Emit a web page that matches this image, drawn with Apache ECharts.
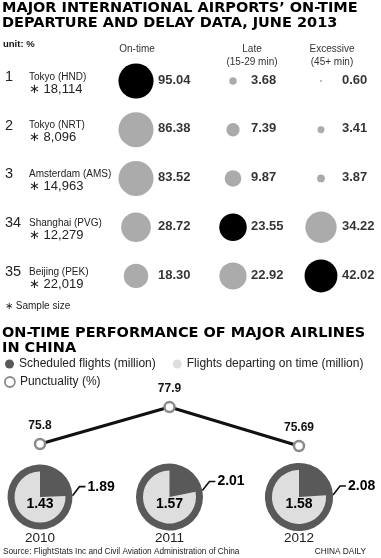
<!DOCTYPE html>
<html><head><meta charset="utf-8">
<script src="https://cdn.jsdelivr.net/npm/echarts@6/dist/echarts.min.js"></script>
<style>html,body{margin:0;padding:0;background:#fff}#c{width:381px;height:558px}</style>
</head><body><div id="c"></div>
<script>
// ---- data ----
const ranks = ['1', '2', '3', '34', '35'];
const airports = ['Tokyo (HND)', 'Tokyo (NRT)', 'Amsterdam (AMS)', 'Shanghai (PVG)', 'Beijing (PEK)'];
const sampleSizes = ['18,114', '8,096', '14,963', '12,279', '22,019'];
const columns = ['On-time', 'Late', 'Excessive'];
const columnSubs = ['', '(15-29 min)', '(45+ min)'];
const onTime = [95.04, 86.38, 83.52, 28.72, 18.30];
const late = [3.68, 7.39, 9.87, 23.55, 22.92];
const excessive = [0.60, 3.41, 3.87, 34.22, 42.02];
const years = ['2010', '2011', '2012'];
const scheduled = [1.89, 2.01, 2.08];
const departedOnTime = [1.43, 1.57, 1.58];
const punctuality = [75.8, 77.9, 75.69];

const LEG_SCHED = 'Scheduled flights (million)';
const LEG_ONTIME = 'Flights departing on time (million)';
const LEG_PUNCT = 'Punctuality (%)';

// ---- styles / layout ----
const FONT = '"Liberation Sans", Arial, sans-serif';
const HEAVY = '"DejaVu Sans", sans-serif';
const DARK = '#595959', LIGHT = '#dedede', GRAY = '#ababab';
const colX = [136, 233, 321];
const labelDist = [22, 18, 21];
const headerX = [137, 252, 332];
const rowTop = 56.6, rowH = 243.75;
const colValues = [onTime, late, excessive];
const radius = v => Math.max(1, 17.6 * (1 - Math.exp(-v / 15.5)));

const chart = echarts.init(document.getElementById('c'), null, {renderer: 'canvas'});

const grids = [], xAxes = [], yAxes = [], series = [];
colValues.forEach((vals, k) => {
  grids.push({left: colX[k] - 20, width: 40, top: rowTop, height: rowH});
  xAxes.push({gridIndex: k, type: 'category', data: [columns[k]], show: false});
  yAxes.push({
    gridIndex: k, type: 'category', data: airports, inverse: true, show: k === 0,
    axisLine: {show: false}, axisTick: {show: false}, splitLine: {show: false},
    axisLabel: {
      show: k === 0, align: 'left', margin: colX[0] - 20 - 5, padding: [4, 0, 0, 0],
      formatter: (v, i) => `{r|${ranks[i]}}{n|${v}}\n{sp|}{s|\u2217 ${sampleSizes[i]}}`,
      rich: {
        r: {fontFamily: FONT, fontSize: 14.5, color: '#222', width: 24, lineHeight: 12, verticalAlign: 'middle'},
        n: {fontFamily: FONT, fontSize: 10, color: '#222', lineHeight: 12, verticalAlign: 'middle'},
        sp: {width: 24, lineHeight: 12},
        s: {fontFamily: FONT, fontSize: 13, color: '#222', lineHeight: 12, verticalAlign: 'middle'}
      }
    }
  });
  const mx = Math.max(...vals);
  const data = airports.map((a, i) => [columns[k], a, vals[i]]);
  series.push({
    type: 'scatter', xAxisIndex: k, yAxisIndex: k, data: data, silent: true,
    symbol: 'circle', symbolSize: d => 2 * radius(d[2]),
    itemStyle: {color: p => p.value[2] === mx ? '#000' : GRAY, opacity: 1}
  });
  series.push({
    type: 'scatter', xAxisIndex: k, yAxisIndex: k, data: data, silent: true,
    symbolSize: 0.01, itemStyle: {color: 'transparent'},
    label: {
      show: true, position: 'right', distance: labelDist[k],
      formatter: p => p.value[2].toFixed(2),
      fontFamily: FONT, fontWeight: 'bold', fontSize: 13, color: '#000', offset: [0, -1]
    }
  });
});

// line grid (index 3)
grids.push({left: 40, right: 82, top: 396.5, height: 61.6});
xAxes.push({
  gridIndex: 3, type: 'category', data: years, boundaryGap: false,
  axisLine: {show: false}, axisTick: {show: false},
  axisLabel: {margin: 73, fontFamily: FONT, fontSize: 13.5, color: '#222'}
});
yAxes.push({gridIndex: 3, type: 'value', min: 75, max: 78.5, show: false, splitLine: {show: false}});
series.push({
  name: LEG_PUNCT, type: 'line', xAxisIndex: 3, yAxisIndex: 3, data: punctuality, silent: true, z: 5,
  symbol: 'circle', symbolSize: 10,
  itemStyle: {color: '#fff', borderColor: '#8a8a8a', borderWidth: 2.5},
  lineStyle: {color: '#111', width: 3},
  label: {show: true, position: 'top', distance: 6, fontFamily: FONT, fontWeight: 'bold', fontSize: 12, color: '#111',
    formatter: p => String(p.value)}
});

const headerGraphics = columns.map((c, k) => ({
  type: 'text', x: headerX[k], y: 43,
  style: {text: columnSubs[k] ? c + '\n' + columnSubs[k] : c, font: '10px ' + FONT, fill: '#333',
    align: 'center', verticalAlign: 'top', lineHeight: 13}
}));

const option = {
  animation: false,
  backgroundColor: '#fff',
  title: [
    {text: "MAJOR INTERNATIONAL AIRPORTS\u2019 ON-TIME\nDEPARTURE AND DELAY DATA, JUNE 2013", left: 2, top: 1, padding: 0,
      textStyle: {fontFamily: HEAVY, fontWeight: 'bold', fontSize: 14.5, lineHeight: 14.5, color: '#000'}},
    {text: "ON-TIME PERFORMANCE OF MAJOR AIRLINES\nIN CHINA", left: 2, top: 326, padding: 0,
      textStyle: {fontFamily: HEAVY, fontWeight: 'bold', fontSize: 14.5, lineHeight: 14.5, color: '#000'}}
  ],
  legend: [
    {data: [LEG_SCHED, LEG_ONTIME], left: 5, top: 358, padding: 0, icon: 'circle', itemWidth: 9, itemHeight: 9, itemGap: 17,
      selectedMode: false, textStyle: {fontFamily: FONT, fontSize: 12, color: '#222'}},
    {data: [{name: LEG_PUNCT, itemStyle: {color: '#fff', borderColor: '#8a8a8a', borderWidth: 1.8}}],
      left: 4, top: 376, padding: 0, icon: 'circle', itemWidth: 10, itemHeight: 10,
      selectedMode: false, textStyle: {fontFamily: FONT, fontSize: 12, color: '#222'}}
  ],
  grid: grids, xAxis: xAxes, yAxis: yAxes, series: series,
  graphic: [
    {type: 'text', x: 3, y: 44, style: {text: 'unit: %', font: 'bold 9.5px ' + FONT, fill: '#111', verticalAlign: 'middle'}},
    ...headerGraphics,
    {type: 'text', x: 5, y: 306, style: {text: '\u2217 Sample size', font: '10px ' + FONT, fill: '#222', verticalAlign: 'middle'}},
    {type: 'text', x: 3, y: 551, scaleX: 0.87, style: {text: 'Source: FlightStats Inc and Civil Aviation Administration of China',
      font: '9.5px ' + FONT, fill: '#222', verticalAlign: 'middle'}},
    {type: 'text', x: 366, y: 551, scaleX: 0.87, style: {text: 'CHINA DAILY', font: '9.5px ' + FONT,
      fill: '#222', align: 'right', verticalAlign: 'middle'}}
  ]
};
chart.setOption(option);

// pies placed under the year categories of the line chart
const pieY = 497;
years.forEach((y, i) => {
  const cx = chart.convertToPixel({xAxisIndex: 3}, y);
  const R = 32.5 * Math.sqrt(scheduled[i] / scheduled[0]);
  const rIn = R - 7;
  const wedge = 360 * (scheduled[i] - departedOnTime[i]) / scheduled[i];
  const boundary = 90 - wedge;
  series.push({
    type: 'pie', center: [cx, pieY], radius: [0, R], startAngle: boundary + 180, clockwise: true,
    silent: true, emphasis: {disabled: true}, z: 2,
    data: [{name: LEG_SCHED, value: scheduled[i], itemStyle: {color: DARK}}],
    label: {show: true, position: 'outside', overflow: 'none', formatter: String(scheduled[i]), fontFamily: FONT, fontWeight: 'bold',
      fontSize: 14, color: '#000'},
    labelLine: {show: true, length: 8, length2: 7, lineStyle: {color: '#111', width: 1.6}},
    labelLayout: p => {
      const pts = p.labelLinePoints;
      if (!pts) return {};
      const p0 = pts[0];
      const p1 = [p0[0] + 7, p0[1] - 9];
      const p2 = [p1[0] + 6, p1[1]];
      return {x: p2[0] + 2, y: p2[1], align: 'left', verticalAlign: 'middle', labelLinePoints: [p0, p1, p2]};
    }
  });
  series.push({
    type: 'pie', center: [cx, pieY], radius: [0, rIn], startAngle: 90, clockwise: true,
    silent: true, emphasis: {disabled: true}, z: 3,
    data: [
      {name: LEG_SCHED, value: scheduled[i] - departedOnTime[i], itemStyle: {color: DARK}, label: {show: false}},
      {name: LEG_ONTIME, value: departedOnTime[i], itemStyle: {color: LIGHT},
        label: {show: true, position: 'center', formatter: String(departedOnTime[i]),
          fontFamily: FONT, fontWeight: 'bold', fontSize: 14, color: '#000'}}
    ],
    labelLine: {show: false},
    labelLayout: () => ({dy: 7})
  });
});
chart.setOption({series: series});
</script>
</body></html>
